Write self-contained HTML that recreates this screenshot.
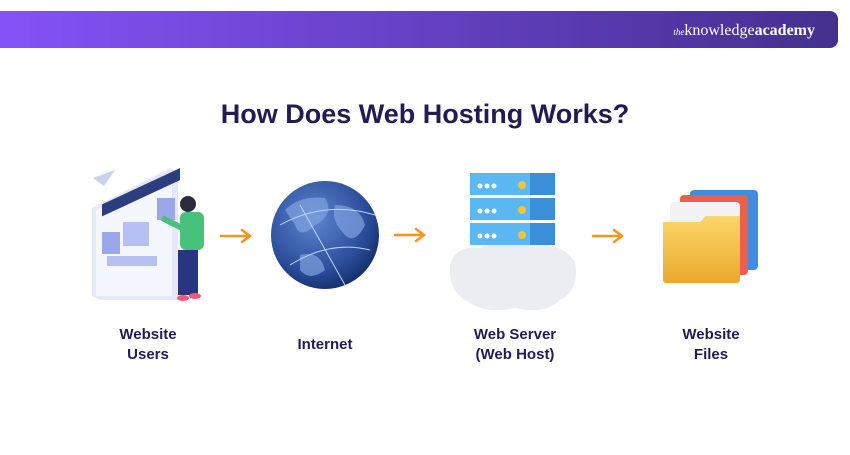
<!DOCTYPE html>
<html><head><meta charset="utf-8"><style>
body{margin:0;width:850px;height:450px;background:#fff;overflow:hidden;font-family:"Liberation Sans",sans-serif}
</style></head><body>
<svg width="850" height="450" viewBox="0 0 850 450" xmlns="http://www.w3.org/2000/svg">
<defs>
<linearGradient id="bn" x1="0" x2="1"><stop offset="0" stop-color="#8552f7"/><stop offset="1" stop-color="#45308f"/></linearGradient>
<radialGradient id="gl" cx="0.4" cy="0.35" r="0.7"><stop offset="0" stop-color="#5f86cf"/><stop offset="0.7" stop-color="#2a4d9a"/><stop offset="1" stop-color="#142c66"/></radialGradient>
<linearGradient id="fo" x1="0" y1="0" x2="0" y2="1"><stop offset="0" stop-color="#fbd66a"/><stop offset="1" stop-color="#eaa92c"/></linearGradient>
</defs>
<path d="M0 11 H830 a8 8 0 0 1 8 8 V40 a8 8 0 0 1 -8 8 H0Z" fill="url(#bn)"/>
<text x="815" y="35" text-anchor="end" fill="#fff" font-family="Liberation Serif,serif" font-size="16"><tspan font-size="9" font-style="italic">the</tspan>knowledge<tspan font-weight="bold">academy</tspan></text>
<text x="425" y="123" text-anchor="middle" fill="#221c52" font-size="27" font-weight="bold">How Does Web Hosting Works?</text>
<!-- users -->
<g>
<path d="M92 208 L170 168 L178 172 L178 300 L100 300 L92 296Z" fill="#e4e8f8"/>
<path d="M96 210 L172 172 L172 296 L96 296Z" fill="#f5f7fe"/>
<rect x="102" y="177" width="78" height="12" fill="#2c3e7e" transform="skewY(-25) translate(0,75)"/>
<rect x="102" y="232" width="18" height="22" fill="#9aa8ea"/>
<rect x="123" y="222" width="26" height="24" fill="#b6c0f2"/>
<rect x="157" y="198" width="18" height="22" fill="#9aa8ea"/>
<rect x="107" y="256" width="50" height="10" fill="#b6c0f2"/>
<path d="M93 178 L115 170 L104 186Z" fill="#c9d3f0"/>
<circle cx="188" cy="204" r="8" fill="#2b2b3b"/>
<rect x="180" y="212" width="24" height="38" rx="6" fill="#48c27a"/>
<path d="M162 218 L182 228" stroke="#48c27a" stroke-width="6"/>
<rect x="178" y="250" width="20" height="45" fill="#2a3582"/>
<ellipse cx="183" cy="298" rx="6" ry="3" fill="#f05a78"/><ellipse cx="195" cy="296" rx="6" ry="3" fill="#f05a78"/>
</g>
<!-- globe -->
<circle cx="325" cy="235" r="54" fill="url(#gl)"/>
<path d="M285 210 Q300 195 325 198 Q335 215 315 225 Q300 240 295 225Z M335 205 Q360 205 365 225 Q355 245 345 235 Q330 220 335 205Z M300 255 Q320 250 325 270 Q310 282 300 270Z" fill="#7fa3e0" opacity="0.7"/>
<path d="M280 225 Q325 200 375 215 M290 265 Q330 240 370 250 M300 205 L345 285" stroke="#bcd4ff" stroke-width="1" fill="none"/>
<!-- server -->
<g>
<path d="M450 265 Q455 245 480 248 Q500 235 525 245 Q560 240 575 262 Q580 290 560 300 Q545 315 515 308 Q485 315 465 300 Q448 290 450 265Z" fill="#ebedf3"/>
<rect x="470" y="173" width="60" height="22" fill="#5cb8f2"/><rect x="530" y="173" width="25" height="22" fill="#3a8fd8"/>
<rect x="470" y="198" width="60" height="22" fill="#5cb8f2"/><rect x="530" y="198" width="25" height="22" fill="#3a8fd8"/>
<rect x="470" y="223" width="60" height="22" fill="#5cb8f2"/><rect x="530" y="223" width="25" height="22" fill="#3a8fd8"/>
<g fill="#fff"><circle cx="480" cy="186" r="2.5"/><circle cx="487" cy="186" r="2.5"/><circle cx="494" cy="186" r="2.5"/>
<circle cx="480" cy="211" r="2.5"/><circle cx="487" cy="211" r="2.5"/><circle cx="494" cy="211" r="2.5"/>
<circle cx="480" cy="236" r="2.5"/><circle cx="487" cy="236" r="2.5"/><circle cx="494" cy="236" r="2.5"/></g>
<g fill="#f6c244"><circle cx="522" cy="185" r="4"/><circle cx="522" cy="210" r="4"/><circle cx="522" cy="235" r="4"/></g>
</g>
<!-- folders -->
<g>
<rect x="690" y="190" width="68" height="80" rx="4" fill="#3d8ee0"/>
<rect x="680" y="195" width="68" height="80" rx="4" fill="#e8614a"/>
<rect x="670" y="202" width="70" height="78" rx="4" fill="#f2f2f2"/>
<path d="M663 222 H700 l6 -6 H740 V280 a3 3 0 0 1 -3 3 H666 a3 3 0 0 1 -3 -3Z" fill="url(#fo)"/>
</g>
<!-- arrows -->
<g stroke="#f7941d" stroke-width="2.5" fill="none" stroke-linecap="round">
<path d="M221 236 H250 M242 230 L250 236 L242 242"/>
<path d="M395 235 H424 M416 229 L424 235 L416 241"/>
<path d="M593 236 H622 M614 230 L622 236 L614 242"/>
</g>
<g fill="#221c52" font-size="15" font-weight="bold" text-anchor="middle">
<text x="148" y="339">Website</text><text x="148" y="359">Users</text>
<text x="325" y="349">Internet</text>
<text x="515" y="339">Web Server</text><text x="515" y="359">(Web Host)</text>
<text x="711" y="339">Website</text><text x="711" y="359">Files</text>
</g>
</svg>
</body></html>
